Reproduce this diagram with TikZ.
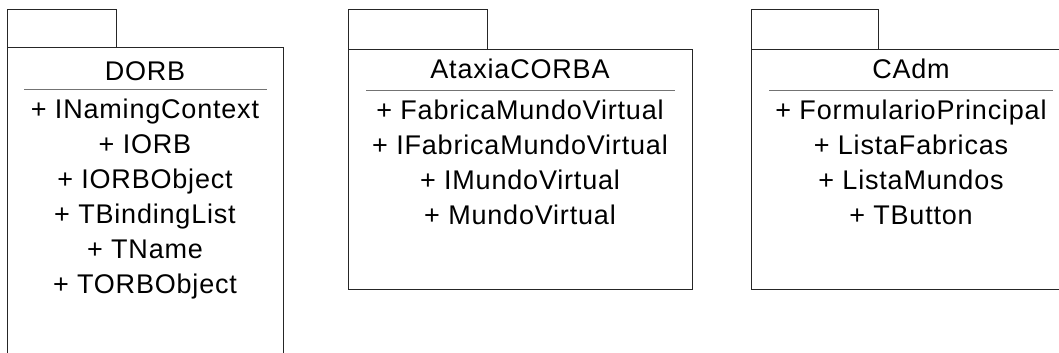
\documentclass[tikz,border=0pt]{standalone}
\usepackage{fontspec}
\setmainfont{Liberation Sans}[LetterSpace=3]

\begin{document}
\begin{tikzpicture}[
      pkg/.style={draw=black!85, line width=0.75pt},
      rule/.style={draw=black!55, line width=0.75pt},
      pkgtitle/.style={anchor=base, inner sep=0pt, font=\fontsize{20.25pt}{24pt}\selectfont},
      member/.style={anchor=base, inner sep=0pt, font=\fontsize{20.25pt}{24pt}\selectfont},
      x=0.75pt, y=-0.75pt
    ]
    \useasboundingbox (0,0) rectangle (1059,353);
    \fill[white] (0,0) rectangle (1059,353);
    \clip (0,0) rectangle (1059,353);

    % DORB
    \draw[pkg] (7,10) rectangle (116,48);
    \draw[pkg] (7,48) rectangle (283,370);
    \node[pkgtitle] (dorb) at (145,80) {DORB};
    \draw[rule] (24,89) -- (267,89);
    \node[member] (dorb1) at (145,118) {+ INamingContext};
    \node[member] (dorb2) at (145,153) {+ IORB};
    \node[member] (dorb3) at (145,188) {+ IORBObject};
    \node[member] (dorb4) at (145,223) {+ TBindingList};
    \node[member] (dorb5) at (145,258) {+ TName};
    \node[member] (dorb6) at (145,293) {+ TORBObject};

    % AtaxiaCORBA
    \draw[pkg] (348,10) rectangle (487,50);
    \draw[pkg] (348,50) rectangle (692,289);
    \node[pkgtitle] (ataxia) at (520,79) {AtaxiaCORBA};
    \draw[rule] (366,90) -- (675,90);
    \node[member] (ataxia1) at (520,119) {+ FabricaMundoVirtual};
    \node[member] (ataxia2) at (520,154) {+ IFabricaMundoVirtual};
    \node[member] (ataxia3) at (520,189) {+ IMundoVirtual};
    \node[member] (ataxia4) at (520,224) {+ MundoVirtual};

    % CAdm
    \draw[pkg] (751,10) rectangle (878,50);
    \draw[pkg] (751,50) rectangle (1071,289);
    \node[pkgtitle] (cadm) at (911,79) {CAdm};
    \draw[rule] (769,90) -- (1053,90);
    \node[member] (cadm1) at (911,119) {+ FormularioPrincipal};
    \node[member] (cadm2) at (911,154) {+ ListaFabricas};
    \node[member] (cadm3) at (911,189) {+ ListaMundos};
    \node[member] (cadm4) at (911,224) {+ TButton};
  \end{tikzpicture}
\end{document}
